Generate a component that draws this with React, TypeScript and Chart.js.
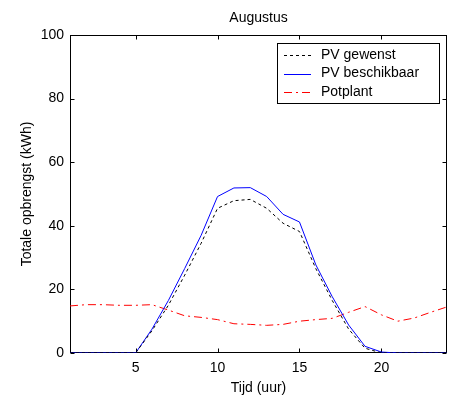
import { useEffect, useRef } from "react";
import { Chart, registerables } from "chart.js";

Chart.register(...registerables);

const chartTitle = "Augustus";
const xTitle = "Tijd (uur)";
const yTitle = "Totale opbrengst (kWh)";
const hours = [1, 2, 3, 4, 5, 6, 7, 8, 9, 10, 11, 12, 13, 14, 15, 16, 17, 18, 19, 20, 21, 22, 23, 24];
const pvGewenst = [0, 0, 0, 0, 0, 7, 15, 24.5, 34.5, 45.5, 47.9, 48.3, 45.5, 40.8, 38.2, 26.5, 16.5, 7.5, 1.5, 0, 0, 0, 0, 0];
const pvBeschikbaar = [0, 0, 0, 0, 0, 7.5, 16.5, 26.6, 37, 49.2, 51.9, 52, 49.2, 43.6, 41.2, 27.7, 17.7, 8.8, 2.1, 0.3, 0, 0, 0, 0];
const potplant = [14.8, 15.2, 15.2, 15, 15, 15.2, 13.5, 11.7, 11.2, 10.5, 9.2, 9, 8.7, 9, 10, 10.5, 10.9, 12.8, 14.6, 12, 10, 11, 12.8, 14.5];
const seriesNames = ["PV gewenst", "PV beschikbaar", "Potplant"];
const xTicks = [5, 10, 15, 20];
const yTicks = [0, 20, 40, 60, 80, 100];

const FONT = "Liberation Sans, Arial, sans-serif";

const styles = [
  { color: "#000000", dash: [3, 3] },
  { color: "#0000ff", dash: [] as number[] },
  { color: "#ff0000", dash: [8, 4, 2, 4] },
];

const framePlugin = {
  id: "frame",
  beforeDatasetsDraw(chart: any) {
    const { ctx, chartArea: a, scales } = chart;
    const L = Math.round(a.left) + 0.5;
    const R = Math.round(a.right) - 0.5;
    const T = Math.round(a.top) + 0.5;
    const B = Math.round(a.bottom) - 0.5;
    ctx.save();
    ctx.strokeStyle = "#000";
    ctx.lineWidth = 1;
    ctx.setLineDash([]);
    ctx.strokeRect(L, T, R - L, B - T);
    const tl = 4;
    ctx.beginPath();
    for (const v of xTicks) {
      const px = Math.round(scales.x.getPixelForValue(v)) + 0.5;
      ctx.moveTo(px, B);
      ctx.lineTo(px, B - tl);
      ctx.moveTo(px, T);
      ctx.lineTo(px, T + tl);
    }
    for (const v of yTicks) {
      const py = Math.round(scales.y.getPixelForValue(v)) + 0.5;
      ctx.moveTo(L, py);
      ctx.lineTo(L + tl, py);
      ctx.moveTo(R, py);
      ctx.lineTo(R - tl, py);
    }
    ctx.stroke();
    ctx.restore();
  },
  afterDraw(chart: any) {
    const { ctx, chartArea: a } = chart;
    ctx.save();
    // title
    ctx.fillStyle = "#000";
    ctx.font = `14px ${FONT}`;
    ctx.textAlign = "center";
    ctx.textBaseline = "alphabetic";
    ctx.fillText(chartTitle, (a.left + a.right) / 2, 22);
    // legend
    const bx = 277.5, by = 43.5, bw = 162, bh = 60;
    ctx.fillStyle = "#fff";
    ctx.fillRect(bx, by, bw, bh);
    ctx.strokeStyle = "#000";
    ctx.lineWidth = 1;
    ctx.setLineDash([]);
    ctx.strokeRect(bx, by, bw, bh);
    const rows = [55, 73.5, 92];
    seriesNames.forEach((name, i) => {
      const y = Math.round(rows[i]) + 0.5;
      ctx.strokeStyle = styles[i].color;
      ctx.setLineDash(styles[i].dash);
      ctx.beginPath();
      ctx.moveTo(284, y);
      ctx.lineTo(311, y);
      ctx.stroke();
      ctx.setLineDash([]);
      ctx.fillStyle = "#000";
      ctx.textAlign = "left";
      ctx.textBaseline = "middle";
      ctx.font = `14px ${FONT}`;
      ctx.fillText(name, 321, rows[i]);
    });
    ctx.restore();
  },
};

export default function App() {
  const ref = useRef<HTMLCanvasElement | null>(null);
  useEffect(() => {
    if (!ref.current) return;
    const series = [pvGewenst, pvBeschikbaar, potplant];
    const chart = new Chart(ref.current, {
      type: "line",
      data: {
        datasets: series.map((vals, i) => ({
          label: seriesNames[i],
          data: hours.map((h, j) => ({ x: h, y: vals[j] })),
          borderColor: styles[i].color,
          borderDash: styles[i].dash,
          borderWidth: 1,
          pointRadius: 0,
          fill: false,
          tension: 0,
        })),
      },
      options: {
        responsive: false,
        animation: false,
        layout: { padding: { top: 35, right: 9, left: 0, bottom: 0 } },
        plugins: {
          legend: { display: false },
          title: { display: false },
          tooltip: { enabled: false },
        },
        scales: {
          x: {
            type: "linear",
            min: 1,
            max: 24,
            afterBuildTicks: (s: any) => {
              s.ticks = xTicks.map((v) => ({ value: v }));
            },
            afterFit: (s: any) => {
              s.height = 45;
            },
            grid: { display: false, drawTicks: false },
            border: { display: false },
            ticks: { color: "#000", font: { family: FONT, size: 14 }, padding: 7, maxRotation: 0, autoSkip: false },
            title: { display: true, text: xTitle, color: "#000", font: { family: FONT, size: 14 }, padding: { top: 0, bottom: 1 } },
          },
          y: {
            type: "linear",
            min: 0,
            max: 100,
            afterBuildTicks: (s: any) => {
              s.ticks = yTicks.map((v) => ({ value: v }));
            },
            afterFit: (s: any) => {
              s.width = 70;
            },
            grid: { display: false, drawTicks: false },
            border: { display: false },
            ticks: { color: "#000", font: { family: FONT, size: 14 }, padding: 6, autoSkip: false },
            title: { display: true, text: yTitle, color: "#000", font: { family: FONT, size: 14 }, padding: { top: 19, bottom: 0 } },
          },
        },
      },
      plugins: [framePlugin],
    });
    return () => chart.destroy();
  }, []);
  return (
    <div style={{ position: "absolute", left: 0, top: 0, width: 456, height: 398, background: "#fff" }}>
      <canvas ref={ref} width={456} height={398} style={{ display: "block" }} />
    </div>
  );
}
